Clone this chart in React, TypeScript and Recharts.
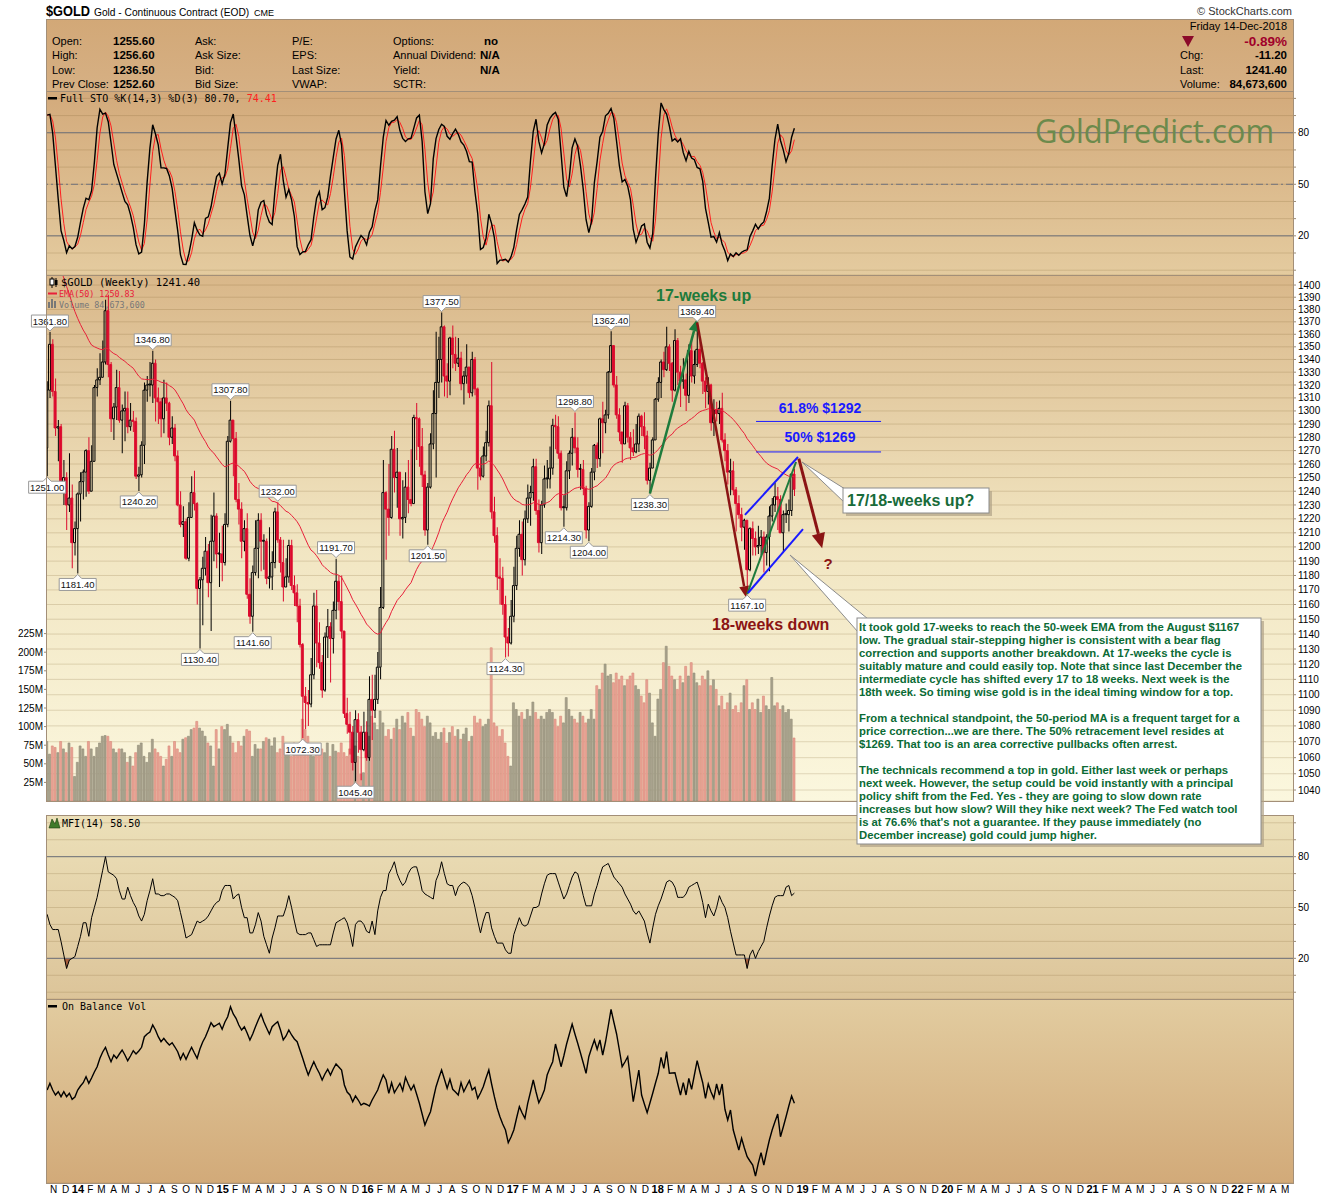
import React from "react";
import {
  Area,
  Bar,
  CartesianGrid,
  Cell,
  ComposedChart,
  Line,
  ReferenceDot,
  ReferenceLine,
  XAxis,
  YAxis,
} from "recharts";

const FONT = '"Liberation Sans", Arial, sans-serif';
const MONO = '"DejaVu Sans Mono", monospace';
const RED = "#dc0a2d";
const INK = "#000";
const GRID = "rgba(120, 88, 40, 0.2)";
const LEVEL = "#6f727c";
const GREEN = "#1e7b3c";
const MAROON = "#8b1414";
const BLUE = "#1a1aff";
const BOX_GREEN = "#0b6b35";

// weekly bars: first week ends Fri 18-Oct-2013, last ends Fri 14-Dec-2018
const FIRST_OPEN = 1272;
const CLOSE = [
  1316, 1352, 1315, 1287, 1288, 1244, 1250, 1230, 1235, 1203,
  1213, 1238, 1247, 1254, 1270, 1240, 1262, 1318, 1324, 1326,
  1338, 1379, 1336, 1294, 1303, 1318, 1293, 1300, 1302, 1288,
  1293, 1292, 1251, 1252, 1274, 1316, 1320, 1320, 1337, 1310,
  1307, 1294, 1310, 1306, 1280, 1287, 1266, 1230, 1216, 1218,
  1192, 1221, 1239, 1231, 1171, 1177, 1185, 1197, 1175, 1204,
  1222, 1195, 1195, 1189, 1216, 1277, 1293, 1279, 1234, 1227,
  1204, 1213, 1167, 1152, 1182, 1199, 1219, 1204, 1204, 1178,
  1179, 1189, 1225, 1205, 1189, 1172, 1179, 1201, 1173, 1168,
  1159, 1133, 1099, 1095, 1094, 1113, 1159, 1134, 1121, 1103,
  1138, 1145, 1137, 1156, 1176, 1162, 1142, 1088, 1081, 1076,
  1057, 1084, 1076, 1065, 1076, 1060, 1097, 1090, 1097, 1118,
  1158, 1239, 1227, 1221, 1271, 1250, 1254, 1220, 1221, 1243,
  1234, 1231, 1295, 1294, 1273, 1252, 1212, 1243, 1275, 1298,
  1322, 1340, 1366, 1327, 1323, 1357, 1344, 1337, 1341, 1321,
  1327, 1334, 1314, 1340, 1317, 1257, 1251, 1266, 1276, 1304,
  1225, 1208, 1179, 1178, 1160, 1138, 1134, 1152, 1173, 1199,
  1209, 1191, 1220, 1235, 1239, 1258, 1226, 1203, 1230, 1249,
  1249, 1257, 1289, 1288, 1268, 1228, 1228, 1255, 1268, 1280,
  1272, 1256, 1256, 1242, 1212, 1229, 1254, 1274, 1264, 1294,
  1291, 1297, 1330, 1351, 1320, 1297, 1284, 1275, 1304, 1280,
  1272, 1269, 1275, 1296, 1288, 1281, 1248, 1257, 1278, 1309,
  1322, 1338, 1332, 1350, 1337, 1316, 1355, 1330, 1323, 1324,
  1312, 1347, 1327, 1336, 1348, 1337, 1323, 1315, 1320, 1291,
  1301, 1298, 1302, 1278, 1270, 1254, 1255, 1241, 1231, 1223,
  1214, 1219, 1184, 1213, 1206, 1200, 1201, 1207, 1196, 1207,
  1222, 1230, 1236, 1234, 1210, 1223, 1223, 1226, 1252.6, 1241.4,
];
const HIGH = [
  1323, 1361.8, 1356, 1325, 1293, 1290, 1263, 1254, 1268, 1245,
  1218, 1239, 1254, 1256, 1271, 1280, 1274, 1320, 1333, 1345,
  1355, 1388, 1392, 1338, 1306, 1332, 1331, 1305, 1315, 1315,
  1306, 1300, 1295, 1258, 1277, 1322, 1327, 1338, 1346.8, 1340,
  1318, 1310, 1324, 1322, 1307, 1296, 1290, 1270, 1240, 1229,
  1220, 1232, 1251, 1255, 1232, 1179, 1193, 1207, 1202, 1223,
  1239, 1224, 1210, 1215, 1224, 1281, 1307.8, 1293, 1284, 1246,
  1232, 1219, 1224, 1178, 1187, 1219, 1224, 1224, 1209, 1206,
  1214, 1197, 1228, 1232, 1207, 1205, 1192, 1205, 1205, 1180,
  1174, 1164, 1134, 1105, 1103, 1124, 1168, 1170, 1148, 1126,
  1141, 1157, 1148, 1162, 1191.7, 1180, 1180, 1142, 1098, 1089,
  1080, 1090, 1088, 1080, 1089, 1083, 1112, 1113, 1113, 1128,
  1172, 1263, 1240, 1260, 1281, 1285, 1272, 1254, 1248, 1254,
  1263, 1271, 1297, 1306, 1295, 1287, 1255, 1246, 1283, 1316,
  1362, 1358, 1377.5, 1367, 1337, 1358, 1367, 1358, 1357, 1346,
  1331, 1352, 1334, 1346, 1342, 1318, 1265, 1273, 1285, 1308,
  1338, 1236, 1214, 1192, 1186, 1166, 1144, 1163, 1186, 1208,
  1219, 1218, 1226, 1245, 1244, 1264, 1264, 1234, 1233, 1259,
  1263, 1273, 1294, 1297, 1296, 1270, 1237, 1262, 1270, 1287,
  1298.8, 1280, 1260, 1263, 1244, 1232, 1257, 1275, 1276, 1295,
  1307, 1301, 1331, 1362.4, 1351, 1327, 1302, 1284, 1307, 1306,
  1284, 1286, 1290, 1298, 1297, 1299, 1285, 1261, 1280, 1310,
  1326, 1340, 1346, 1366, 1352, 1338, 1364, 1357, 1335, 1341,
  1329, 1352, 1358, 1347, 1369.4, 1357, 1338, 1326, 1326, 1321,
  1309, 1307, 1308, 1314, 1283, 1275, 1264, 1262, 1243, 1237,
  1228, 1220, 1219, 1214, 1218, 1211, 1215, 1212, 1211, 1209,
  1229, 1235, 1246, 1243, 1237, 1226, 1231, 1234, 1253, 1256.6,
];
const LOW = [
  1251, 1310, 1311, 1281, 1262, 1240, 1230, 1212, 1225, 1185,
  1194, 1181.4, 1218, 1234, 1236, 1238, 1240, 1262, 1311, 1320,
  1326, 1336, 1326, 1284, 1278, 1293, 1291, 1268, 1277, 1283,
  1285, 1284, 1249, 1240.2, 1250, 1260, 1307, 1311, 1306, 1292,
  1290, 1280, 1283, 1300, 1274, 1275, 1262, 1229, 1214, 1207,
  1191, 1190, 1221, 1226, 1160, 1130.4, 1146, 1180, 1165, 1142,
  1190, 1185, 1172, 1176, 1187, 1214, 1276, 1251, 1232, 1216,
  1192, 1197, 1164, 1147, 1141.6, 1180, 1178, 1183, 1184, 1174,
  1171, 1170, 1185, 1203, 1182, 1162, 1172, 1175, 1170, 1159,
  1148, 1131, 1072.3, 1078, 1080, 1092, 1110, 1118, 1117, 1098,
  1102, 1124, 1108, 1127, 1150, 1156, 1137, 1085, 1075, 1062,
  1052, 1045.4, 1063, 1046, 1064, 1058, 1058, 1071, 1085, 1094,
  1110, 1157, 1191, 1208, 1220, 1239, 1228, 1208, 1206, 1217,
  1224, 1229, 1231, 1263, 1258, 1243, 1208, 1201.5, 1242, 1271,
  1250, 1310, 1322, 1311, 1310, 1312, 1333, 1331, 1334, 1316,
  1305, 1321, 1310, 1311, 1312, 1241, 1248, 1250, 1262, 1273,
  1220, 1203, 1170, 1160, 1153, 1124.3, 1125, 1133, 1148, 1170,
  1193, 1180, 1187, 1217, 1215, 1233, 1223, 1196, 1195, 1228,
  1242, 1242, 1252, 1271, 1264, 1226, 1214.3, 1226, 1249, 1259,
  1268, 1250, 1241, 1237, 1206, 1204, 1228, 1248, 1257, 1258,
  1268, 1283, 1294, 1330, 1318, 1294, 1277, 1261, 1275, 1276,
  1263, 1266, 1268, 1269, 1281, 1271, 1245, 1238.3, 1257, 1278,
  1307, 1310, 1326, 1331, 1331, 1307, 1315, 1320, 1303, 1317,
  1300, 1306, 1322, 1321, 1334, 1333, 1313, 1302, 1305, 1285,
  1281, 1292, 1290, 1276, 1262, 1245, 1237, 1237, 1211, 1220,
  1204, 1198, 1167.1, 1183, 1194, 1194, 1195, 1194, 1182, 1187,
  1183, 1218, 1225, 1212, 1210, 1196, 1217, 1211, 1222, 1236.5,
];
// weekly volume, millions of contracts
const VOLUME = [
  80, 63, 74, 72, 65, 80, 70, 65, 78, 72,
  33, 52, 74, 70, 60, 80, 70, 60, 72, 78,
  87, 88, 87, 80, 70, 65, 70, 70, 65, 52,
  60, 47, 65, 75, 78, 60, 52, 65, 83, 70,
  65, 60, 47, 56, 74, 60, 80, 70, 65, 83,
  85, 87, 96, 98, 107, 98, 94, 87, 78, 74,
  47, 96, 70, 100, 96, 103, 87, 78, 65, 80,
  74, 87, 96, 94, 60, 76, 70, 70, 80, 85,
  83, 74, 85, 65, 70, 87, 74, 67, 60, 78,
  74, 78, 110, 96, 87, 74, 60, 70, 74, 70,
  65, 78, 60, 76, 67, 65, 78, 65, 60, 70,
  83, 74, 60, 36, 38, 65, 87, 114, 105, 96,
  121, 105, 87, 96, 83, 98, 110, 96, 114, 105,
  119, 98, 87, 123, 119, 110, 100, 114, 105, 87,
  92, 83, 92, 98, 78, 92, 100, 87, 96, 83,
  90, 98, 80, 87, 114, 105, 110, 100, 103, 110,
  206, 105, 100, 87, 96, 78, 60, 47, 132, 123,
  114, 119, 110, 123, 114, 133, 119, 110, 114, 110,
  119, 123, 119, 110, 100, 114, 105, 139, 123, 114,
  110, 105, 119, 114, 105, 110, 123, 110, 155, 150,
  172, 184, 168, 170, 159, 172, 163, 168, 155, 163,
  168, 172, 155, 150, 141, 132, 163, 145, 105, 87,
  137, 150, 186, 208, 181, 168, 163, 150, 168, 159,
  181, 168, 186, 172, 159, 155, 168, 163, 175, 155,
  163, 150, 128, 141, 123, 132, 145, 123, 128, 119,
  132, 155, 163, 123, 132, 123, 137, 119, 141, 128,
  123, 166, 128, 132, 123, 128, 119, 123, 110, 84.7,
];
const MFI = [
  46, 40, 37, 37, 37, 30, 22, 14, 19, 20,
  21, 27, 33, 41, 41, 33, 44, 50, 56, 64,
  72, 80, 71, 70, 69, 67, 60, 55, 55, 62,
  57, 53, 50, 45, 42, 46, 54, 60, 67, 58,
  58, 57, 57, 58, 58, 57, 56, 54, 47, 40,
  32, 33, 34, 38, 42, 41, 42, 43, 45, 48,
  51, 53, 54, 60, 63, 63, 63, 55, 57, 58,
  50, 44, 44, 35, 35, 40, 47, 42, 33, 28,
  23, 32, 38, 45, 45, 45, 50, 57, 50, 42,
  35, 34, 34, 34, 35, 35, 31, 27, 28, 28,
  28, 28, 28, 35, 41, 42, 43, 44, 41, 35,
  27, 40, 42, 42, 40, 36, 35, 42, 34, 48,
  56, 60, 60, 70, 73, 77, 70, 66, 63, 65,
  70, 73, 74, 74, 68, 60, 58, 57, 56, 55,
  66, 70, 77, 70, 64, 63, 63, 57, 62, 64,
  65, 64, 62, 57, 50, 42, 35, 42, 47, 47,
  38, 33, 29, 29, 29, 25, 23, 23, 34, 39,
  44, 40, 39, 40, 45, 50, 50, 51, 58, 64,
  69, 70, 70, 70, 65, 60, 55, 58, 63, 68,
  71, 70, 64, 57, 51, 51, 51, 58, 63, 69,
  74, 75, 76, 72, 68, 66, 64, 62, 58, 55,
  52, 48, 46, 48, 45, 42, 35, 29, 38, 46,
  51, 55, 60, 65, 66, 65, 62, 56, 56, 56,
  58, 62, 63, 64, 65, 60, 53, 44, 52, 48,
  45, 50, 57, 53, 50, 44, 36, 29, 22, 22,
  22, 22, 14, 22, 25, 20, 24, 27, 30, 38,
  45, 51, 56, 57, 57, 57, 62, 63, 57, 58.5,
];
// on balance volume, millions (relative level)
const OBV = [
  920, 987, 920, 870, 903, 853, 903, 853, 887, 827,
  850, 920, 960, 993, 1053, 987, 1040, 1100, 1153, 1237,
  1300, 1347, 1270, 1203, 1270, 1237, 1280, 1320, 1270, 1213,
  1260, 1313, 1280, 1310, 1347, 1453, 1480, 1500, 1570, 1520,
  1453, 1403, 1437, 1400, 1370, 1393, 1350, 1303, 1227, 1287,
  1227, 1290, 1347, 1290, 1237, 1330, 1400, 1453, 1520, 1593,
  1553, 1570, 1587, 1527, 1600, 1653, 1753, 1680, 1637, 1570,
  1520, 1553, 1490, 1420, 1480, 1553, 1620, 1680, 1603, 1540,
  1480, 1553, 1580, 1603, 1520, 1420, 1460, 1520, 1470, 1430,
  1403, 1320, 1237, 1150, 1070, 1140, 1203, 1140, 1087, 1020,
  1080, 1127, 1070, 1130, 1180, 1150, 1120, 970, 900, 870,
  803, 860, 820, 770, 787, 775, 760, 820, 870, 920,
  1000, 1070, 1020, 887, 993, 893, 940, 987, 913, 1047,
  980, 920, 970, 880, 787, 680, 570, 640, 703, 830,
  953, 1040, 1120, 1030, 937, 1027, 927, 900, 870, 993,
  903, 960, 1013, 920, 947, 837, 890, 953, 1040, 1120,
  980, 853, 740, 653, 580, 520, 393, 450, 520, 640,
  753, 690, 637, 787, 900, 1020, 900, 793, 850, 920,
  1070, 1140, 1203, 1380, 1270, 1153, 1260, 1380, 1480, 1580,
  1480, 1387, 1290, 1190, 1087, 1253, 1340, 1420, 1327, 1420,
  1270, 1400, 1560, 1727, 1600, 1480, 1320, 1153, 1200, 1253,
  1030, 803, 960, 1120, 870, 780, 693, 790, 887, 990,
  1087, 1247, 1137, 1303, 1087, 1090, 1093, 980, 870, 993,
  870, 1037, 927, 1070, 1213, 1100, 993, 837, 980, 900,
  837, 980, 870, 980, 727, 620, 720, 520, 420, 320,
  437, 340, 253, 210, 170, 60, 187, 293, 170, 300,
  420, 520, 603, 680, 453, 550, 653, 760, 860, 787,
];
const EMA_SEED = 1443;
const PEAK_WEEKS = [0, 1, 11, 33, 38, 55, 66, 74, 83, 92, 104, 111, 137, 142, 165, 186, 190, 195, 203, 217, 234, 252];
const PEAK_KIND = "LHLLHLHLHLHLLHLLHLHLHL";

const BOX_LINES = [
  "It took gold 17-weeks to reach the 50-week EMA from the August $1167",
  "low. The gradual stair-stepping higher is consistent with a bear flag",
  "correction and supports another breakdown. At 17-weeks the cycle is",
  "suitably mature and could easily top. Note that since last December the",
  "intermediate cycle has shifted every 17 to 18 weeks. Next week is the",
  "18th week. So timing wise gold is in the ideal timing window for a top.",
  "",
  "From a technical standpoint, the 50-period MA is a frequent target for a",
  "price correction...we are there. The 50% retracement level resides at",
  "$1269. That too is an area corrective pullbacks often arrest.",
  "",
  "The technicals recommend a top in gold. Either last week or perhaps",
  "next week. However, the setup could be void instantly with a principal",
  "policy shift from the Fed. Yes - they are going to slow down rate",
  "increases but how slow? Will they hike next week? The Fed watch tool",
  "is at 76.6% that's not a guarantee. If they pause immediately (no",
  "December increase) gold could jump higher.",
];

// ---- time axis -------------------------------------------------------------
const WEEK_MS = 7 * 86400000;
const T0 = Date.UTC(2013, 9, 18);
const weekOf = (y: number, m: number) => (Date.UTC(y, m, 1) - T0) / WEEK_MS;
const X_DOMAIN: [number, number] = [-0.05, 448.5];

const MONTHS: { v: number; label: string }[] = [];
const QUARTERS: number[] = [];
for (let y = 2013; y <= 2022; y++) {
  for (let m = 0; m < 12; m++) {
    const v = weekOf(y, m);
    if (v < 1 || v > 447) continue;
    MONTHS.push({ v, label: m === 0 ? String(y % 100).padStart(2, "0") : "JFMAMJJASOND"[m] });
    if (m % 3 === 0) QUARTERS.push(v);
  }
}
const MONTH_TICKS = MONTHS.map((m) => m.v);
const PRICE_TICKS: number[] = [];
for (let p = 1040; p <= 1400; p += 10) PRICE_TICKS.push(p);
const TEN_TICKS = [0, 10, 20, 30, 40, 50, 60, 70, 80, 90, 100];
const VOL_TICKS = [25, 50, 75, 100, 125, 150, 175, 200, 225];
const OBV_TICKS = [0, 250, 500, 750, 1000, 1250, 1500, 1750];

// ---- derived rows ----------------------------------------------------------
const avg = (a: number[]) => a.reduce((s, v) => s + v, 0) / a.length;
let ema = EMA_SEED;
const rawK: number[] = [];
const fullK: number[] = [];
const rows = CLOSE.map((c, i) => {
  const o = i === 0 ? FIRST_OPEN : CLOSE[i - 1];
  ema += (2 / 51) * (c - ema);
  const from = Math.max(0, i - 13);
  const hh = Math.max(...HIGH.slice(from, i + 1));
  const ll = Math.min(...LOW.slice(from, i + 1));
  rawK.push(hh > ll ? (100 * (c - ll)) / (hh - ll) : 50);
  const k = avg(rawK.slice(Math.max(0, i - 2)));
  fullK.push(k);
  const d = avg(fullK.slice(Math.max(0, i - 2)));
  const top = Math.max(o, c);
  const bot = Math.min(o, c);
  return {
    i,
    up: c >= o,
    upper: [top, HIGH[i]],
    lower: [LOW[i], bot],
    body: [bot, top],
    vol: VOLUME[i],
    ema,
    k,
    d,
    mfi: MFI[i],
    mfiLo: Math.min(MFI[i], 20),
    mfiHi: Math.max(MFI[i], 80),
    obv: OBV[i],
  };
});

const quarterLines = (props: any) => {
  const xa = props && props.xAxis;
  return xa && typeof xa.scale === "function" ? QUARTERS.map((q) => xa.scale(q)) : [];
};

function MonthTick(props: any) {
  const { x, y, payload } = props;
  const m = MONTHS.find((t) => Math.abs(t.v - payload.value) < 1e-6);
  if (!m) return <g />;
  const yr = m.label.length === 2;
  return (
    <text x={x + 1} y={y + 10} textAnchor="middle" fontSize={yr ? 11 : 10} fontWeight={yr ? 700 : 400} fill={INK} fontFamily={FONT}>
      {m.label}
    </text>
  );
}

const arrow = (color: string, w: number, head: number) => (p: any) => {
  const { x1, y1, x2, y2 } = p;
  if (![x1, y1, x2, y2].every(Number.isFinite)) return <g />;
  if (!head) return <line x1={x1} y1={y1} x2={x2} y2={y2} stroke={color} strokeWidth={w} />;
  const a = Math.atan2(y2 - y1, x2 - x1);
  const bx = x2 - head * Math.cos(a);
  const by = y2 - head * Math.sin(a);
  const nx = -Math.sin(a) * head * 0.45;
  const ny = Math.cos(a) * head * 0.45;
  return (
    <g>
      <line x1={x1} y1={y1} x2={bx} y2={by} stroke={color} strokeWidth={w} />
      <polygon points={`${x2},${y2} ${bx + nx},${by + ny} ${bx - nx},${by - ny}`} fill={color} />
    </g>
  );
};

const TRENDS = [
  { a: [217, 1238.3], b: [234, 1372], color: GREEN, w: 2.5, head: 12 },
  { a: [234, 1369.4], b: [251.6, 1165], color: MAROON, w: 2.5, head: 11 },
  { a: [252, 1167.1], b: [269.6, 1261.5], color: GREEN, w: 2, head: 0 },
  { a: [251.2, 1222.8], b: [270.3, 1265.2], color: BLUE, w: 2, head: 0 },
  { a: [252.3, 1167.9], b: [272.1, 1212.7], color: BLUE, w: 2, head: 0 },
  { a: [270.6, 1264], b: [279, 1199], color: MAROON, w: 3, head: 15 },
  { a: [255.2, 1292], b: [300.2, 1292], color: BLUE, w: 1, head: 0 },
  { a: [255.2, 1269], b: [300.2, 1269], color: BLUE, w: 1, head: 0 },
];

const peakTag = (label: string, high: boolean) => (p: any) => {
  const { cx, cy } = p;
  if (!Number.isFinite(cx) || !Number.isFinite(cy)) return <g />;
  const w = 37;
  const h = 12;
  const top = high ? cy - 5 - h : cy + 5;
  const tip = high ? cy - 1 : cy + 1;
  const d = high
    ? `M${cx - w / 2},${top} h${w} v${h} H${cx + 4} L${cx},${tip} L${cx - 4},${top + h} H${cx - w / 2} Z`
    : `M${cx - w / 2},${top} H${cx - 4} L${cx},${tip} L${cx + 4},${top} H${cx + w / 2} v${h} h${-w} Z`;
  return (
    <g>
      <path d={d} fill="#fff" stroke="#999" strokeWidth={1} />
      <text x={cx} y={top + 9.5} textAnchor="middle" fontSize={9.5} fontFamily={FONT} fill="#111">
        {label}
      </text>
    </g>
  );
};

const tickStyle = { fontSize: 10, fill: INK, fontFamily: FONT };
const levelFmt = (v: number) => (v === 20 || v === 50 || v === 80 ? String(v) : "");

function StoPanel() {
  return (
    <ComposedChart width={1340} height={184} data={rows} margin={{ top: 0, right: 0, bottom: 0, left: 47 }}>
      <XAxis dataKey="i" type="number" domain={X_DOMAIN} allowDataOverflow hide />
      <YAxis orientation="right" width={47} domain={[-2.8, 104.3]} allowDataOverflow ticks={TEN_TICKS} interval={0}
        tickFormatter={levelFmt} tickSize={3} tickMargin={2} axisLine={false} tickLine={{ stroke: "#9a8a74" }} tick={tickStyle} />
      <CartesianGrid stroke={GRID} verticalCoordinatesGenerator={quarterLines} />
      <ReferenceLine y={80} stroke={LEVEL} />
      <ReferenceLine y={20} stroke={LEVEL} />
      <ReferenceLine y={50} stroke={LEVEL} strokeDasharray="7 3 2 3" />
      <Line dataKey="d" stroke="#ff1f1f" strokeWidth={1} dot={false} isAnimationActive={false} />
      <Line dataKey="k" stroke={INK} strokeWidth={1.4} dot={false} isAnimationActive={false} />
    </ComposedChart>
  );
}

function PricePanel() {
  return (
    <ComposedChart width={1340} height={540} data={rows} margin={{ top: 0, right: 0, bottom: 0, left: 0 }}>
      <XAxis xAxisId="x" dataKey="i" type="number" domain={X_DOMAIN} allowDataOverflow ticks={MONTH_TICKS} interval={0}
        height={14} axisLine={false} tickLine={false} tickSize={0} tickMargin={0} tick={<MonthTick />} />
      {["v", "u", "lo", "b"].map((id) => (
        <XAxis key={id} xAxisId={id} dataKey="i" type="number" domain={X_DOMAIN} allowDataOverflow hide />
      ))}
      <YAxis yAxisId="p" orientation="right" scale="log" domain={[1033.3, 1408.3]} allowDataOverflow ticks={PRICE_TICKS}
        interval={0} width={47} tickSize={3} tickMargin={2} axisLine={false} tickLine={{ stroke: "#9a8a74" }} tick={tickStyle} />
      <YAxis yAxisId="vol" orientation="left" domain={[0, 707]} allowDataOverflow ticks={VOL_TICKS} interval={0} width={47}
        tickFormatter={(v) => `${v}M`} tickSize={3} tickMargin={1} axisLine={false} tickLine={{ stroke: "#9a8a74" }} tick={tickStyle} />
      <CartesianGrid xAxisId="x" yAxisId="p" stroke={GRID} verticalCoordinatesGenerator={quarterLines} />
      <Bar xAxisId="v" yAxisId="vol" dataKey="vol" barSize={2} isAnimationActive={false}>
        {rows.map((r) => (
          <Cell key={r.i} fill={r.up ? "#a8a28c" : "#eaa395"} stroke={r.up ? "#8e8a76" : "#d68878"} strokeWidth={0.6} />
        ))}
      </Bar>
      <Line xAxisId="x" yAxisId="p" dataKey="ema" stroke="#e8203a" strokeWidth={1} dot={false} isAnimationActive={false} />
      <Bar xAxisId="u" yAxisId="p" dataKey="upper" barSize={1} isAnimationActive={false}>
        {rows.map((r) => (
          <Cell key={r.i} fill={r.up ? INK : RED} />
        ))}
      </Bar>
      <Bar xAxisId="lo" yAxisId="p" dataKey="lower" barSize={1} isAnimationActive={false}>
        {rows.map((r) => (
          <Cell key={r.i} fill={r.up ? INK : RED} />
        ))}
      </Bar>
      <Bar xAxisId="b" yAxisId="p" dataKey="body" barSize={2} minPointSize={1} isAnimationActive={false}>
        {rows.map((r) => (
          <Cell key={r.i} fill={r.up ? "none" : RED} stroke={r.up ? INK : RED} strokeWidth={1} />
        ))}
      </Bar>
      {TRENDS.map((t, j) => (
        <ReferenceLine key={`t${j}`} xAxisId="x" yAxisId="p" ifOverflow="visible"
          segment={[{ x: t.a[0], y: t.a[1] }, { x: t.b[0], y: t.b[1] }]} shape={arrow(t.color, t.w, t.head)} />
      ))}
      {PEAK_WEEKS.map((w, j) => {
        const high = PEAK_KIND[j] === "H";
        const val = high ? HIGH[w] : LOW[w];
        return (
          <ReferenceDot key={`p${j}`} xAxisId="x" yAxisId="p" x={w} y={val} ifOverflow="visible" shape={peakTag(val.toFixed(2), high)} />
        );
      })}
    </ComposedChart>
  );
}

function MfiPanel() {
  return (
    <ComposedChart width={1340} height={184} data={rows} margin={{ top: 0, right: 0, bottom: 0, left: 47 }}>
      <XAxis dataKey="i" type="number" domain={X_DOMAIN} allowDataOverflow hide />
      <YAxis orientation="right" width={47} domain={[-4, 104.6]} allowDataOverflow ticks={TEN_TICKS} interval={0}
        tickFormatter={levelFmt} tickSize={3} tickMargin={2} axisLine={false} tickLine={{ stroke: "#9a8a74" }} tick={tickStyle} />
      <CartesianGrid stroke={GRID} verticalCoordinatesGenerator={quarterLines} />
      <ReferenceLine y={80} stroke={LEVEL} />
      <ReferenceLine y={20} stroke={LEVEL} />
      <Area dataKey="mfiLo" baseValue={20} fill="#9c4a2a" fillOpacity={0.85} stroke="none" isAnimationActive={false} />
      <Area dataKey="mfiHi" baseValue={80} fill="#3f7a2a" fillOpacity={0.85} stroke="none" isAnimationActive={false} />
      <Line dataKey="mfi" stroke={INK} strokeWidth={1} dot={false} isAnimationActive={false} />
    </ComposedChart>
  );
}

function ObvPanel() {
  return (
    <ComposedChart width={1340} height={201} data={rows} margin={{ top: 0, right: 0, bottom: 0, left: 47 }}>
      <XAxis dataKey="i" type="number" domain={X_DOMAIN} allowDataOverflow ticks={MONTH_TICKS} interval={0}
        height={17} axisLine={false} tickLine={false} tickSize={0} tickMargin={0} tick={<MonthTick />} />
      <YAxis orientation="right" width={47} domain={[-10, 1830]} allowDataOverflow ticks={OBV_TICKS} tick={false} axisLine={false} tickLine={false} />
      <CartesianGrid stroke={GRID} verticalCoordinatesGenerator={quarterLines} />
      <Line dataKey="obv" stroke={INK} strokeWidth={1.4} dot={false} isAnimationActive={false} />
    </ComposedChart>
  );
}

const bg = (top: number, h: number, grad: string) => (
  <div style={{ position: "absolute", left: 47, top, width: 1246, height: h, background: grad }} />
);

function Overlay() {
  const label = { fontFamily: FONT, fontSize: 11, fill: INK };
  const val = { fontFamily: FONT, fontSize: 11.5, fontWeight: 700, fill: INK };
  const rowsY = [45, 59, 73.5, 87.5];
  return (
    <svg width={1340} height={1200} style={{ position: "absolute", left: 0, top: 0, pointerEvents: "none" }}>
      {/* frames */}
      {[
        [19, 72],
        [91, 184],
        [275, 526],
        [815, 184],
        [999, 184],
      ].map(([t, h], j) => (
        <rect key={j} x={46.5} y={t + 0.5} width={1247} height={h} fill="none" stroke="#a38f78" />
      ))}
      {/* title */}
      <text x={46} y={16} fontFamily={FONT} fontSize={15} fontWeight={700} textLength={44} lengthAdjust="spacingAndGlyphs">$GOLD</text>
      <text x={94} y={16} fontFamily={FONT} fontSize={10.2} fill={INK}>Gold - Continuous Contract (EOD)</text>
      <text x={254} y={16} fontFamily={FONT} fontSize={9} fill={INK}>CME</text>
      <text x={1292} y={15} textAnchor="end" fontFamily={FONT} fontSize={11} fill="#333">© StockCharts.com</text>
      {/* header block */}
      {["Open:", "High:", "Low:", "Prev Close:"].map((t, j) => <text key={t} x={52} y={rowsY[j]} {...label}>{t}</text>)}
      {["1255.60", "1256.60", "1236.50", "1252.60"].map((t, j) => <text key={t} x={113} y={rowsY[j]} {...val}>{t}</text>)}
      {["Ask:", "Ask Size:", "Bid:", "Bid Size:"].map((t, j) => <text key={t} x={195} y={rowsY[j]} {...label}>{t}</text>)}
      {["P/E:", "EPS:", "Last Size:", "VWAP:"].map((t, j) => <text key={t} x={292} y={rowsY[j]} {...label}>{t}</text>)}
      {["Options:", "Annual Dividend:", "Yield:", "SCTR:"].map((t, j) => <text key={t} x={393} y={rowsY[j]} {...label}>{t}</text>)}
      <text x={484} y={rowsY[0]} {...val}>no</text>
      <text x={480} y={rowsY[1]} {...val}>N/A</text>
      <text x={480} y={rowsY[2]} {...val}>N/A</text>
      <text x={1287} y={30} textAnchor="end" {...label}>Friday  14-Dec-2018</text>
      <polygon points="1182,36 1194,36 1188,47" fill="#8b0a2a" />
      <text x={1287} y={46} textAnchor="end" fontFamily={FONT} fontSize={13.5} fontWeight={700} fill="#a0002a">-0.89%</text>
      {["Chg:", "Last:", "Volume:"].map((t, j) => <text key={t} x={1180} y={rowsY[j + 1]} {...label}>{t}</text>)}
      {["-11.20", "1241.40", "84,673,600"].map((t, j) => <text key={t} x={1287} y={rowsY[j + 1]} textAnchor="end" {...val}>{t}</text>)}
      {/* legends */}
      <rect x={48} y={97} width={9} height={2.5} fill={INK} />
      <text x={60} y={102} fontFamily={MONO} fontSize={10} fill={INK}>
        Full STO %K(14,3) %D(3) 80.70, <tspan fill="#ff1f1f">74.41</tspan>
      </text>
      <text x={1035} y={143} fontFamily='"Open Sans", sans-serif' fontSize={33} fill="#6c8a4c" textLength={239} lengthAdjust="spacingAndGlyphs">GoldPredict.com</text>
      <line x1={52} y1={277} x2={52} y2={288} stroke={INK} />
      <rect x={50} y={279} width={4} height={6} fill="#fff" stroke={INK} />
      <line x1={56} y1={278} x2={56} y2={287} stroke={INK} />
      <rect x={55} y={280} width={2.5} height={5} fill={INK} />
      <text x={61} y={286} fontFamily={MONO} fontSize={10.5} fill={INK}>$GOLD (Weekly) 1241.40</text>
      <rect x={48} y={292.5} width={9} height={2} fill="#e8203a" />
      <text x={59} y={297} fontFamily={MONO} fontSize={8.4} fill="#e8203a">EMA(50) 1250.83</text>
      <rect x={48} y={302} width={2} height={6} fill="#777" />
      <rect x={51} y={299} width={2} height={9} fill="#777" />
      <rect x={54} y={301} width={2} height={7} fill="#777" />
      <text x={59} y={307.5} fontFamily={MONO} fontSize={8.4} fill="#777">Volume 84,673,600</text>
      <polygon points="49,828 52,819 55,824 57,818 60,828" fill="#3f7a2a" stroke="#1c3d10" strokeWidth={0.6} />
      <text x={62} y={827} fontFamily={MONO} fontSize={10} fill={INK}>MFI(14) 58.50</text>
      <rect x={48} y={1005} width={9} height={2.5} fill={INK} />
      <text x={62} y={1010} fontFamily={MONO} fontSize={10} fill={INK}>On Balance Vol</text>
      {/* annotation text */}
      <text x={656} y={301} fontFamily={FONT} fontSize={16} fontWeight={700} fill={GREEN}>17-weeks up</text>
      <text x={820} y={413} textAnchor="middle" fontFamily={FONT} fontSize={14} fontWeight={700} fill={BLUE}>61.8% $1292</text>
      <text x={820} y={442} textAnchor="middle" fontFamily={FONT} fontSize={14} fontWeight={700} fill={BLUE}>50% $1269</text>
      <text x={712} y={630} fontFamily={FONT} fontSize={16} fontWeight={700} fill={MAROON}>18-weeks down</text>
      <text x={828} y={569} textAnchor="middle" fontFamily={FONT} fontSize={15} fontWeight={700} fill={MAROON}>?</text>
      {/* callout: 17/18 weeks */}
      <polygon points="802,462 845,489 845,503" fill="#fff" stroke="#8c8c8c" />
      <rect x={846} y={491} width={146} height={25} fill="#b0a288" opacity={0.7} />
      <rect x={843} y={488} width={146} height={25} fill="#fff" stroke="#8c8c8c" />
      <text x={847} y={506} fontFamily={FONT} fontSize={16} fontWeight={700} fill="#186b3a">17/18-weeks up?</text>
      {/* callout: commentary */}
      <polygon points="790,555 868,619 858,632" fill="#fff" stroke="#8c8c8c" />
      <rect x={860} y={621} width={404} height={226} fill="#b0a288" opacity={0.7} />
      <rect x={857} y={618} width={404} height={226} fill="#fff" stroke="#8c8c8c" />
      {BOX_LINES.map((t, j) => (
        <text key={j} x={859} y={630.5 + j * 13} fontFamily={FONT} fontSize={11.3} fontWeight={700} fill={BOX_GREEN}>{t}</text>
      ))}
    </svg>
  );
}

export default function App() {
  return (
    <div style={{ position: "absolute", left: 0, top: 0, width: 1340, height: 1200, background: "#fff", overflow: "hidden" }}>
      {bg(19, 72, "linear-gradient(#d2a877, #d6b084)")}
      {bg(91, 184, "linear-gradient(#d3aa7b, #e4cb9f)")}
      {bg(275, 526, "linear-gradient(#d9b789, #f1e5c1 50%, #fbf7de)")}
      {bg(815, 184, "linear-gradient(#ece0b9, #dcc499)")}
      {bg(999, 184, "linear-gradient(#e2cca0, #d2aa79)")}
      <div style={{ position: "absolute", left: 0, top: 91 }}>
        <StoPanel />
      </div>
      <div style={{ position: "absolute", left: 0, top: 275 }}>
        <PricePanel />
      </div>
      <div style={{ position: "absolute", left: 0, top: 815 }}>
        <MfiPanel />
      </div>
      <div style={{ position: "absolute", left: 0, top: 999 }}>
        <ObvPanel />
      </div>
      <Overlay />
    </div>
  );
}
